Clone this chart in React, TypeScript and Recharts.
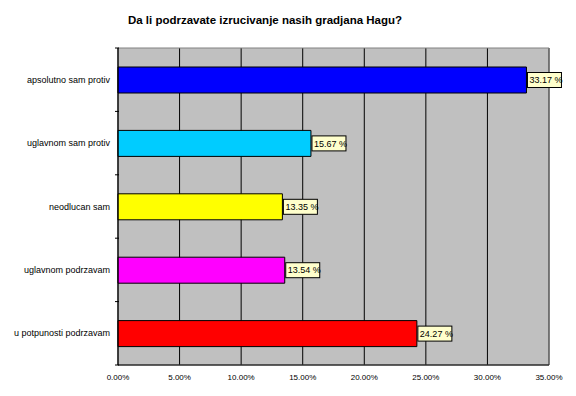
import { BarChart, Bar, XAxis, YAxis, CartesianGrid, Cell, ReferenceArea } from 'recharts';

const categories = [
  'apsolutno sam protiv',
  'uglavnom sam protiv',
  'neodlucan sam',
  'uglavnom podrzavam',
  'u potpunosti podrzavam',
];
const percents = [33.17, 15.67, 13.35, 13.54, 24.27];
const barColors = ['#0000FF', '#00CCFF', '#FFFF00', '#FF00FF', '#FF0000'];
const xTicks = [0, 5, 10, 15, 20, 25, 30, 35];

const data = categories.map((name, i) => ({ name, value: percents[i] }));

const FONT = 'Arial, "Liberation Sans", sans-serif';
const PLOT_TOP = 48;
const PLOT_BOTTOM = 365;
const BAND = (PLOT_BOTTOM - PLOT_TOP) / categories.length;

// category label centered on the band, tick marks on the band edges
// eslint-disable-next-line @typescript-eslint/no-explicit-any
function CategoryTick(props: any) {
  const { x, y, payload, index } = props;
  const last = index === categories.length - 1;
  return (
    <g>
      <line x1={x + 5} x2={x + 9} y1={y - BAND / 2} y2={y - BAND / 2} stroke="#000" />
      {last && <line x1={x + 5} x2={x + 9} y1={y + BAND / 2} y2={y + BAND / 2} stroke="#000" />}
      <text x={x} y={y} dy="0.35em" textAnchor="end" fontSize={9} fill="#000" fontFamily={FONT}>
        {payload.value}
      </text>
    </g>
  );
}

// eslint-disable-next-line @typescript-eslint/no-explicit-any
function renderValueLabel(props: any) {
  const { x, y, width, height, value } = props;
  const bx = x + width + 1;
  const cy = y + height / 2;
  return (
    <g>
      <rect x={bx} y={cy - 7.5} width={34} height={15} fill="#FFFFCC" stroke="#000" />
      <text x={bx + 2} y={cy} dy="0.35em" fontSize={9} fill="#000" fontFamily={FONT}>
        {`${Number(value).toFixed(2)} %`}
      </text>
    </g>
  );
}

export default function App() {
  return (
    <div style={{ position: 'relative', width: 576, height: 396, background: '#fff', margin: -8 }}>
      <div
        style={{
          position: 'absolute',
          left: 0,
          width: 530,
          top: 14,
          textAlign: 'center',
          fontFamily: FONT,
          fontWeight: 'bold',
          fontSize: 11.5,
          color: '#000',
        }}
      >
        Da li podrzavate izrucivanje nasih gradjana Hagu?
      </div>
      <BarChart
        width={576}
        height={396}
        data={data}
        layout="vertical"
        margin={{ top: PLOT_TOP, right: 27, bottom: 0, left: 0 }}
        barSize={26}
      >
        <CartesianGrid horizontal={false} stroke="#000" fill="#C0C0C0" strokeOpacity={1} />
        <ReferenceArea x1={0} x2={35} fill="none" stroke="#808080" ifOverflow="visible" />
        <XAxis
          type="number"
          domain={[0, 35]}
          ticks={xTicks}
          interval={0}
          height={31}
          axisLine={{ stroke: '#000' }}
          tickLine={false}
          tickMargin={3}
          tick={{ fontSize: 8, fill: '#000', fontFamily: FONT }}
          tickFormatter={(v: number) => `${v.toFixed(2)}%`}
        />
        <YAxis
          type="category"
          dataKey="name"
          width={118}
          axisLine={{ stroke: '#000' }}
          tickLine={false}
          tick={<CategoryTick />}
        />
        <Bar dataKey="value" stroke="#000" strokeWidth={1} isAnimationActive={false} label={renderValueLabel}>
          {data.map((_, i) => (
            <Cell key={`cell-${i}`} fill={barColors[i]} />
          ))}
        </Bar>
      </BarChart>
    </div>
  );
}
